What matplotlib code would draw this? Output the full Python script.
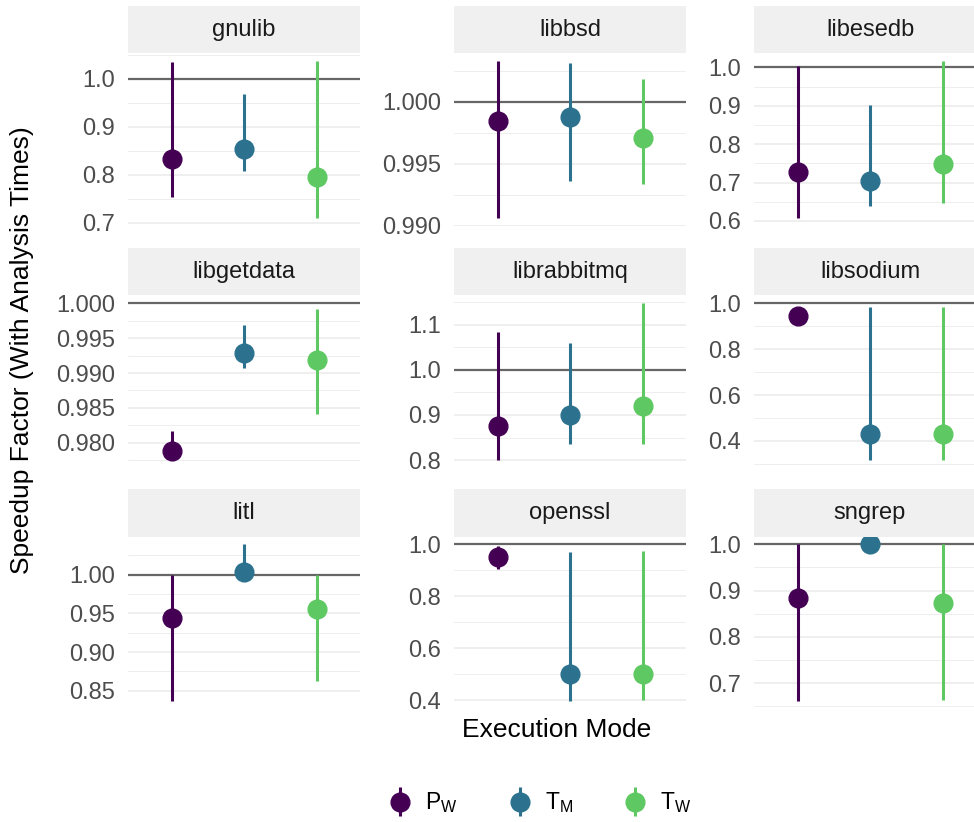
"""
speedup facets - pointrange per library, one panel per library
"""
import numpy as np
import matplotlib.pyplot as plt
from matplotlib.ticker import MultipleLocator, FormatStrFormatter
from matplotlib.legend_handler import HandlerErrorbar

plt.rcParams['font.family'] = ['Liberation Sans', 'DejaVu Sans']
plt.rcParams['mathtext.fontset'] = 'custom'
plt.rcParams['mathtext.rm'] = 'Liberation Sans'

libs = ['gnulib', 'libbsd', 'libesedb', 'libgetdata', 'librabbitmq',
        'libsodium', 'litl', 'openssl', 'sngrep']
mode_labels = [r'$\mathregular{P_W}$', r'$\mathregular{T_M}$', r'$\mathregular{T_W}$']

# point estimate per library
pw_mid = [0.833, 0.99848, 0.727, 0.9788, 0.875, 0.943, 0.944, 0.9525, 0.883]
tm_mid = [0.853, 0.99878, 0.704, 0.99293, 0.900, 0.432, 1.0039, 0.500, 1.0]
tw_mid = [0.795, 0.99708, 0.748, 0.99183, 0.920, 0.432, 0.956, 0.500, 0.873]
# interval bounds
pw_lo = [0.753, 0.99060, 0.607, 0.9775, 0.800, 0.943, 0.8366, 0.906, 0.661]
pw_hi = [1.035, 1.00329, 1.005, 0.98173, 1.084, 0.943, 1.0, 0.9935, 1.0]
tm_lo = [0.808, 0.99360, 0.638, 0.99077, 0.835, 0.316, 1.0, 0.396, 1.0]
tm_hi = [0.968, 1.00316, 0.901, 0.99683, 1.060, 0.985, 1.0392, 0.970, 1.0]
tw_lo = [0.710, 0.99335, 0.647, 0.98413, 0.835, 0.316, 0.862, 0.400, 0.663]
tw_hi = [1.036, 1.00189, 1.016, 0.99913, 1.147, 0.985, 1.0, 0.974, 1.0]

# y break spacing per panel
tick_steps = [0.1, 0.005, 0.1, 0.005, 0.1, 0.2, 0.05, 0.2, 0.1]

mids = [pw_mid, tm_mid, tw_mid]
los = [pw_lo, tm_lo, tw_lo]
his = [pw_hi, tm_hi, tw_hi]
colors = [plt.cm.viridis(v) for v in (0.0, 0.375, 0.75)]

W, H = 974, 822
fig = plt.figure(figsize=(W / 100, H / 100), dpi=100)

col_left = [128, 454, 754]
row_top = [6, 248, 489]
pw_, strip_h, panel_h = 232, 47.5, 172.5

handles = None
for k, lib in enumerate(libs):
    r, c = divmod(k, 3)
    x0 = col_left[c]
    st = row_top[r]
    pt = st + strip_h
    ax = fig.add_axes([x0 / W, 1 - (pt + panel_h) / H, pw_ / W, panel_h / H])
    sax = fig.add_axes([x0 / W, 1 - pt / H, pw_ / W, strip_h / H])
    sax.set_facecolor('#F0F0F0')
    sax.set_xticks([]); sax.set_yticks([])
    for s in sax.spines.values():
        s.set_visible(False)
    sax.text(0.5, 0.5, lib, ha='center', va='center', fontsize=17, color='#1A1A1A')

    ax.axhline(1.0, color='#666666', lw=1.6, zorder=2)
    hs = []
    for m in range(3):
        y = mids[m][k]
        e = ax.errorbar([m + 1], [y], yerr=[[y - los[m][k]], [his[m][k] - y]],
                        fmt='o', color=colors[m], ms=13.5, elinewidth=2.2,
                        capsize=0, zorder=3)
        hs.append(e)
    if k == 0:
        handles = hs

    lo = min(min(l[k] for l in los), 1.0)
    hi = max(max(h[k] for h in his), 1.0)
    pad = 0.05 * (hi - lo)
    ax.set_ylim(lo - pad, hi + pad)
    ax.set_xlim(0.4, 3.6)

    step = tick_steps[k]
    dec = int(max(0, -np.floor(np.log10(step))))
    ax.yaxis.set_major_locator(MultipleLocator(step))
    ax.yaxis.set_minor_locator(MultipleLocator(step / 2))
    ax.yaxis.set_major_formatter(FormatStrFormatter('%.' + str(dec) + 'f'))
    ax.set_xticks([])
    ax.tick_params(axis='y', which='both', length=0, pad=9.5,
                   labelsize=17, labelcolor='#4D4D4D')
    ax.grid(axis='y', which='major', color='#EBEBEB', lw=1.1, zorder=0)
    ax.grid(axis='y', which='minor', color='#EBEBEB', lw=0.6, zorder=0)
    ax.set_axisbelow(True)
    for s in ax.spines.values():
        s.set_visible(False)

fig.text(22 / W, 1 - 350 / H, 'Speedup Factor (With Analysis Times)',
         rotation=90, ha='center', va='center', fontsize=19)
fig.text(557 / W, 1 - 730 / H, 'Execution Mode', ha='center', va='center', fontsize=19)

fig.legend(handles, mode_labels, loc='center', bbox_to_anchor=(540 / W, 1 - 803 / H),
           ncol=3, frameon=False, fontsize=16.5, handlelength=1.0,
           handletextpad=0.6, columnspacing=2.2,
           handler_map={type(handles[0]): HandlerErrorbar(xerr_size=0.65)})

plt.savefig('out.png', dpi=100)
